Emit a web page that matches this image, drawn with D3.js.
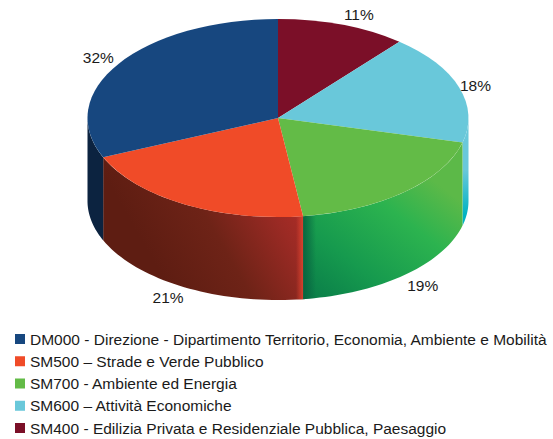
<!DOCTYPE html>
<html>
<head>
<meta charset="utf-8">
<script src="https://cdn.jsdelivr.net/npm/d3@7"></script>
<style>
    html, body { margin: 0; padding: 0; background: #fff; }
    text { font-family: "Liberation Sans", Arial, sans-serif; fill: #1a1a1a; }
</style>
</head>
<body>
<svg id="chart" width="553" height="439"></svg>
<script>
// Values, clockwise from 12 o'clock
var categories = [
    "SM400 - Edilizia Privata e Residenziale Pubblica, Paesaggio",
    "SM600 – Attività Economiche",
    "SM700 - Ambiente ed Energia",
    "SM500 – Strade e Verde Pubblico",
    "DM000 - Direzione - Dipartimento Territorio, Economia, Ambiente e Mobilità"
];
var values = [11.0, 18.0, 18.9, 20.6, 31.5];
var colors = ["#7b0f28", "#69c8da", "#63bb47", "#f04b28", "#17477f"];

// Legend runs in the opposite order to the slices
var legendOrder = [4, 3, 2, 1, 0];

// Setting up the ellipse of the top face and the depth of the wall
const cx = 278, cy = 118, rx = 190.5, ry = 99, depth = 83;
const fontSize = 15.5;

// Hand nudges for the percent labels, same order as the slices
const labelNudge = [[8, 1], [-7, 2], [2, 1], [-4, 0], [0, 0]];

var svg = d3.select("#chart");
var defs = svg.append("defs");

function wallGradient(id, x1, y1, x2, y2, stops) {
    var g = defs.append("linearGradient")
        .attr("id", id)
        .attr("gradientUnits", "userSpaceOnUse")
        .attr("x1", x1).attr("y1", y1)
        .attr("x2", x2).attr("y2", y2);
    stops.forEach(function(s) {
        g.append("stop")
            .attr("offset", s[0])
            .attr("stop-color", s[1])
            .attr("stop-opacity", s[2] === undefined ? 1 : s[2]);
    });
    return "url(#" + id + ")";
}

var wallFills = [
    "#5a0a1c",
    wallGradient("wallCyan", 0, 170, 0, 215, [[0, "#69c8da"], [1, "#00b2c2"]]),
    wallGradient("wallGreen", 320, 300, 420, 170, [[0, "#0b8049"], [0.3, "#169a4e"], [0.7, "#2cb34f"], [1, "#5cb948"]]),
    wallGradient("wallRed", 170, 290, 300, 215, [[0, "#5e1d12"], [0.45, "#6e2317"], [0.85, "#9a2a24"], [1, "#a82c26"]]),
    "#0c2340"
];

// Shading across the corner where the red and green walls meet
var wallShine = [
    null,
    null,
    wallGradient("shineGreen", 303, 0, 316, 0, [[0, "#08603f", 0.9], [1, "#08603f", 0]]),
    wallGradient("shineRed", 296, 0, 303, 0, [[0, "#e0452f", 0], [1, "#e0452f", 0.85]]),
    null
];

var pie = d3.pie().sort(null)(values);

// Only the front half of the cylinder shows a wall
function wallPath(d) {
    var a0 = Math.max(d.startAngle, Math.PI / 2);
    var a1 = Math.min(d.endAngle, Math.PI * 3 / 2);
    if (a1 <= a0) return null;
    var steps = d3.range(0, 41).map(function(i) { return a0 + (a1 - a0) * i / 40; });
    var top = steps.map(function(a) { return [cx + rx * Math.sin(a), cy - ry * Math.cos(a)]; });
    var bottom = steps.slice().reverse().map(function(a) {
        return [cx + rx * Math.sin(a), cy + depth - ry * Math.cos(a)];
    });
    return d3.line()(top.concat(bottom)) + "Z";
}

svg.selectAll(".wall")
    .data(pie)
    .join("path")
    .attr("class", "wall")
    .attr("fill", function(d, i) { return wallFills[i]; })
    .attr("d", wallPath);

svg.selectAll(".shine")
    .data(pie.filter(function(d, i) { return wallShine[i]; }))
    .join("path")
    .attr("class", "shine")
    .attr("fill", function(d) { return wallShine[d.index]; })
    .attr("d", wallPath);

// Top face is a normal pie squashed into the ellipse
var arc = d3.arc().innerRadius(0).outerRadius(rx);

svg.append("g")
    .attr("transform", `translate(${cx}, ${cy}) scale(1, ${ry / rx})`)
    .selectAll(".slice")
    .data(pie)
    .join("path")
    .attr("class", "slice")
    .attr("fill", function(d, i) { return colors[i]; })
    .attr("d", arc);

// Percent labels sit just outside the ellipse, pushed down by the wall in front
svg.selectAll(".pct")
    .data(pie)
    .join("text")
    .attr("class", "pct")
    .attr("text-anchor", "middle")
    .attr("dominant-baseline", "central")
    .attr("font-size", fontSize)
    .attr("x", function(d, i) {
        return cx + 215 * Math.sin((d.startAngle + d.endAngle) / 2) + labelNudge[i][0];
    })
    .attr("y", function(d, i) {
        var c = Math.cos((d.startAngle + d.endAngle) / 2);
        return cy - 111 * c + (c < 0 ? depth : 0) + labelNudge[i][1];
    })
    .text(function(d) { return Math.round(d.data) + "%"; });

// Legend
var legendY = d3.scalePoint()
    .domain(legendOrder)
    .range([339, 428]);

var legend = svg.selectAll(".legend")
    .data(legendOrder)
    .join("g")
    .attr("class", "legend")
    .attr("transform", function(d) { return `translate(15, ${legendY(d)})`; });

legend.append("rect")
    .attr("y", -5)
    .attr("width", 10)
    .attr("height", 10)
    .attr("fill", function(d) { return colors[d]; });

legend.append("text")
    .attr("x", 15)
    .attr("dominant-baseline", "central")
    .attr("font-size", fontSize)
    .text(function(d) { return categories[d]; });
</script>
</body>
</html>
